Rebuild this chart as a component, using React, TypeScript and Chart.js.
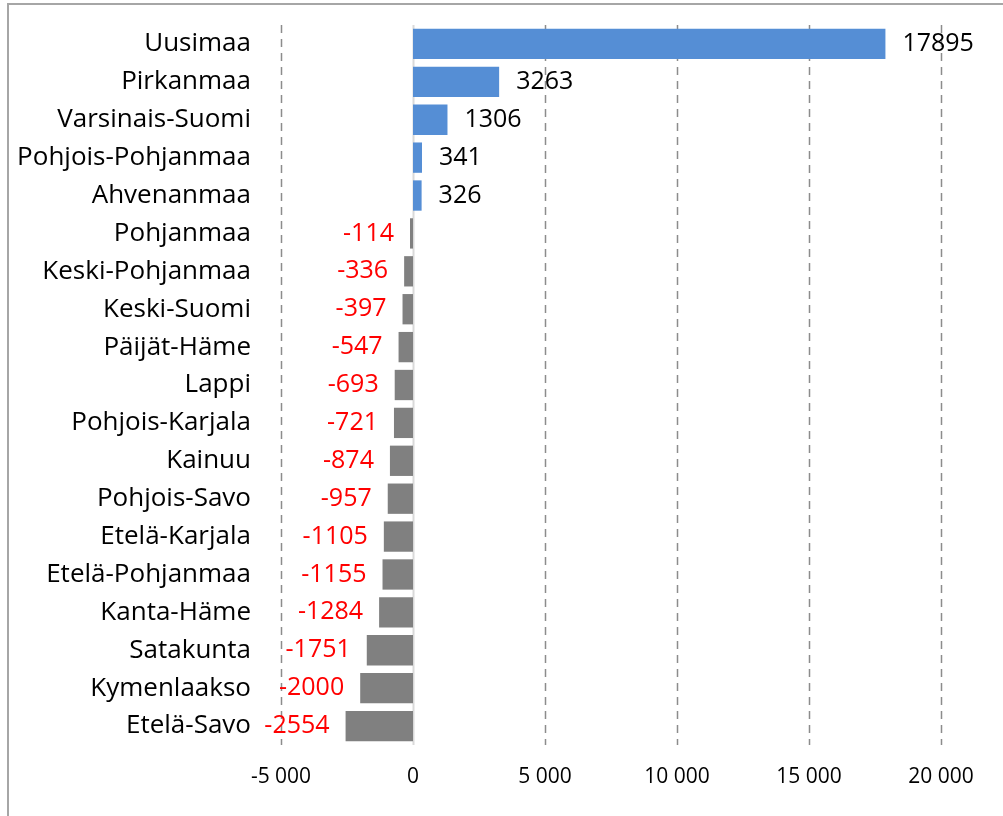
import React, { useEffect, useRef } from "react";
import { Chart, registerables } from "chart.js";

Chart.register(...registerables);

const regions: string[] = [
  "Uusimaa", "Pirkanmaa", "Varsinais-Suomi", "Pohjois-Pohjanmaa", "Ahvenanmaa",
  "Pohjanmaa", "Keski-Pohjanmaa", "Keski-Suomi", "Päijät-Häme", "Lappi",
  "Pohjois-Karjala", "Kainuu", "Pohjois-Savo", "Etelä-Karjala", "Etelä-Pohjanmaa",
  "Kanta-Häme", "Satakunta", "Kymenlaakso", "Etelä-Savo",
];
const changes: number[] = [
  17895, 3263, 1306, 341, 326, -114, -336, -397, -547, -693,
  -721, -874, -957, -1105, -1155, -1284, -1751, -2000, -2554,
];
const xMin = -5000;
const xMax = 20000;
const xStep = 5000;

const FONT = "'Open Sans', sans-serif";

const fmt = (v: number) => {
  const s = Math.abs(v).toString().replace(/\B(?=(\d{3})+(?!\d))/g, " ");
  return (v < 0 ? "-" : "") + s;
};

const decorPlugin = {
  id: "decor",
  beforeDraw(chart: any) {
    const ctx = chart.ctx;
    ctx.save();
    ctx.fillStyle = "#ffffff";
    ctx.fillRect(0, 0, chart.width, chart.height);
    ctx.strokeStyle = "#a6a6a6";
    ctx.lineWidth = 2;
    ctx.strokeRect(8, 4, chart.width + 50, chart.height + 50);
    ctx.restore();
  },
  beforeDatasetsDraw(chart: any) {
    const ctx = chart.ctx;
    const xs = chart.scales.x;
    const area = chart.chartArea;
    ctx.save();
    for (let v = xMin; v <= xMax; v += xStep) {
      const px = Math.round(xs.getPixelForValue(v)) + 0.5;
      ctx.beginPath();
      if (v === 0) {
        ctx.setLineDash([]);
        ctx.strokeStyle = "#d9d9d9";
        ctx.lineWidth = 2;
      } else {
        ctx.setLineDash([8, 6]);
        ctx.strokeStyle = "#8c8c8c";
        ctx.lineWidth = 1.5;
      }
      ctx.moveTo(px, area.top);
      ctx.lineTo(px, area.bottom);
      ctx.stroke();
    }
    ctx.restore();
  },
  afterDatasetsDraw(chart: any) {
    const ctx = chart.ctx;
    const meta = chart.getDatasetMeta(0);
    ctx.save();
    ctx.font = `25px ${FONT}`;
    ctx.textBaseline = "middle";
    meta.data.forEach((bar: any, i: number) => {
      const v = changes[i];
      if (v >= 0) {
        ctx.fillStyle = "#000000";
        ctx.textAlign = "left";
        ctx.fillText(String(v), bar.x + 17, bar.y);
      } else {
        ctx.fillStyle = "#ff0000";
        ctx.textAlign = "right";
        ctx.fillText(String(v), bar.x - 16, bar.y);
      }
    });
    ctx.restore();
  },
};

export default function App() {
  const ref = useRef<HTMLCanvasElement | null>(null);
  useEffect(() => {
    if (!ref.current) return;
    const chart = new Chart(ref.current, {
      type: "bar",
      data: {
        labels: regions,
        datasets: [
          {
            data: changes,
            backgroundColor: changes.map((v) => (v >= 0 ? "#558ed5" : "#808080")),
            barPercentage: 0.8,
            categoryPercentage: 1,
          },
        ],
      },
      options: {
        indexAxis: "y",
        animation: false,
        responsive: false,
        layout: { padding: { top: 25, right: 62, left: 0, bottom: 0 } },
        plugins: { legend: { display: false }, tooltip: { enabled: false } },
        scales: {
          x: {
            min: xMin,
            max: xMax,
            ticks: {
              stepSize: xStep,
              color: "#000000",
              font: { family: FONT, size: 21 },
              padding: 19,
              maxRotation: 0,
              callback: (v: any) => fmt(Number(v)),
            },
            grid: { display: false, drawTicks: false },
            border: { display: false },
            afterFit: (s: any) => {
              s.height = 71;
              s.paddingLeft = 0;
              s.paddingRight = 0;
            },
          },
          y: {
            ticks: {
              color: "#000000",
              font: { family: FONT, size: 26 },
              padding: 30,
              autoSkip: false,
            },
            grid: { display: false, drawTicks: false },
            border: { display: false },
            afterFit: (s: any) => {
              s.width = 281;
              s.paddingTop = 0;
              s.paddingBottom = 0;
            },
          },
        },
      },
      plugins: [decorPlugin],
    } as any);
    return () => chart.destroy();
  }, []);
  return (
    <div style={{ position: "absolute", left: 0, top: 0, width: 1003, height: 816 }}>
      <canvas ref={ref} width={1003} height={816} style={{ display: "block" }} />
    </div>
  );
}
